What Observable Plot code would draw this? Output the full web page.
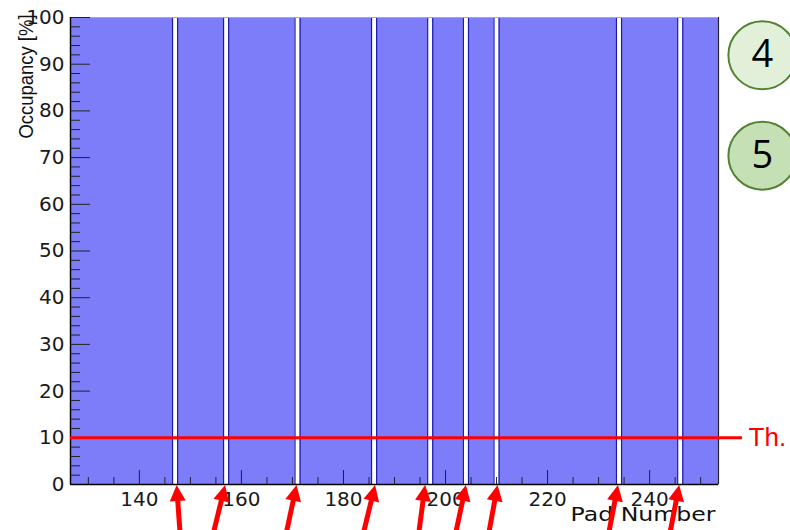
<!DOCTYPE html>
<html><head><meta charset="utf-8">
<script src="https://cdn.jsdelivr.net/npm/d3@7"></script>
<script src="https://cdn.jsdelivr.net/npm/@observablehq/plot@0.6"></script>
<style>body{margin:0;background:#fff}</style>
</head><body><div id="chart"></div>
<script>
// Filled pad runs (occupancy 100%); single empty pads between them
const segStart = [127, 148, 158, 172, 187, 198, 205, 211, 235, 247];
const segEnd   = [146, 156, 170, 185, 196, 203, 209, 233, 245, 253];
const segOcc   = [100, 100, 100, 100, 100, 100, 100, 100, 100, 100];
const gapPads  = [147, 157, 171, 186, 197, 204, 210, 234, 246];
// Red annotation arrows (pad units): tip and tail
const arrowTip  = [147.4, 156.9, 170.9, 186.3, 196.1, 204.1, 210.3, 233.9, 245.9];
const arrowTail = [148.1, 154.5, 168.8, 183.9, 194.8, 202.0, 208.5, 232.0, 244.0];
const threshold = [10];
const xTicks = [140, 160, 180, 200, 220, 240];
const yTicks = [0, 10, 20, 30, 40, 50, 60, 70, 80, 90, 100];
const xMinor = [130, 135, 145, 150, 155, 165, 170, 175, 185, 190, 195, 205, 210, 215, 225, 230, 235, 245, 250];
const yMinor = d3.range(2, 100, 2).filter(v => v % 10 !== 0);
const badges = ["4", "5"];
const badgeY = [91.9, 70.4];
const badgeFill = ["#e2f0d9", "#c5e0b4"];

const segs = segStart.map((s, i) => ({start: s, end: segEnd[i], occ: segOcc[i]}));
const edges = segs.flatMap(s => [s.start - 0.5, s.end + 0.5]);
const badgeData = badges.map((t, i) => ({t, y: badgeY[i], fill: badgeFill[i]}));

const chart = Plot.plot({
  width: 790, height: 530,
  marginLeft: 70, marginRight: 72, marginTop: 17, marginBottom: 46,
  style: {fontFamily: "DejaVu Sans", fontSize: "20px", color: "#1a1a1a", background: "#fff", overflow: "visible"},
  x: {domain: [126.5, 253.5], ticks: xTicks, tickSize: 0, tickPadding: 7, label: null},
  y: {domain: [0, 100], ticks: yTicks, tickSize: 0, tickPadding: 6, label: null},
  marks: [
    Plot.rectY(segs, {x1: d => d.start - 0.5, x2: d => d.end + 0.5, y1: 0, y2: "occ", fill: "#7d7dfa"}),
    Plot.ruleX(edges, {x: d => d, y1: 0, y2: 100, stroke: "#1a1aa8", strokeWidth: 1.2}),
    Plot.frame({stroke: "#aaaaaa"}),
    Plot.tickX(xTicks, {x: d => d, insetTop: 453, stroke: "#222", strokeWidth: 1}),
    Plot.tickX(xMinor, {x: d => d, insetTop: 460, stroke: "#222", strokeWidth: 1}),
    Plot.tickY(yTicks, {y: d => d, insetRight: 628, stroke: "#222", strokeWidth: 1}),
    Plot.tickY(yMinor, {y: d => d, insetRight: 638, stroke: "#222", strokeWidth: 1}),
    Plot.ruleX([126.5], {y1: 0, y2: 100, stroke: "#000", strokeWidth: 1.3}),
    Plot.ruleY([0], {x1: 126.5, x2: 253.5, stroke: "#000", strokeWidth: 1.3}),
    Plot.ruleX([253.5], {y1: 0, y2: 100, stroke: "#222", strokeWidth: 1}),
    Plot.ruleY(threshold, {y: d => d, x1: 126.5, x2: 258.2, stroke: "#ff0000", strokeWidth: 3}),
    Plot.text(threshold, {y: d => d, x: 259.4, text: () => "Th.", textAnchor: "start", fill: "#ff0000", fontSize: 26, fontFamily: "Liberation Sans"}),
    Plot.dot(badgeData, {x: 262.1, y: "y", r: 34, fill: "fill", stroke: "#548235", strokeWidth: 2}),
    Plot.text(badgeData, {x: 262.1, y: "y", text: "t", fontSize: 38, fontFamily: "Open Sans", fill: "#000"}),
    Plot.text(["Occupancy [%]"], {frameAnchor: "top-left", dx: -51, dy: -3, rotate: -90, textAnchor: "end", fontSize: 19.5, fontFamily: "Liberation Sans", fill: "#111"}),
    Plot.text(["Pad Number"], {frameAnchor: "bottom-right", dx: -3, dy: 36, textAnchor: "end", fontSize: 19, fill: "#111"})
  ]
});
document.getElementById("chart").appendChild(chart);

// fit titles to their widths in the reference
d3.select(chart).selectAll("text").filter(function() { return this.textContent === "Pad Number"; })
  .attr("textLength", 145).attr("lengthAdjust", "spacingAndGlyphs");
d3.select(chart).selectAll("text").filter(function() { return this.textContent === "Occupancy [%]"; })
  .attr("textLength", 124).attr("lengthAdjust", "spacingAndGlyphs");

// red arrows, positioned through Plot's own scales
const sx = chart.scale("x"), sy = chart.scale("y");
const g = d3.select(chart).append("g").attr("fill", "#ff0000").attr("stroke", "#ff0000");
arrowTip.forEach((tp, i) => {
  const tx = sx.apply(tp), ty = sy.apply(0) + 1;
  const bx = sx.apply(arrowTail[i]), by = sy.apply(-11);
  const dx = tx - bx, dy = ty - by, L = Math.hypot(dx, dy);
  const ux = dx / L, uy = dy / L, nx = -uy, ny = ux;
  const hl = 16, hw = 8;
  const hx = tx - ux * hl, hy = ty - uy * hl;
  g.append("line").attr("x1", bx).attr("y1", by).attr("x2", hx + ux * 2).attr("y2", hy + uy * 2)
    .attr("stroke-width", 5);
  g.append("path").attr("stroke", "none")
    .attr("d", `M${tx},${ty}L${hx + nx * hw},${hy + ny * hw}L${hx - nx * hw},${hy - ny * hw}Z`);
});
</script>
</body></html>
